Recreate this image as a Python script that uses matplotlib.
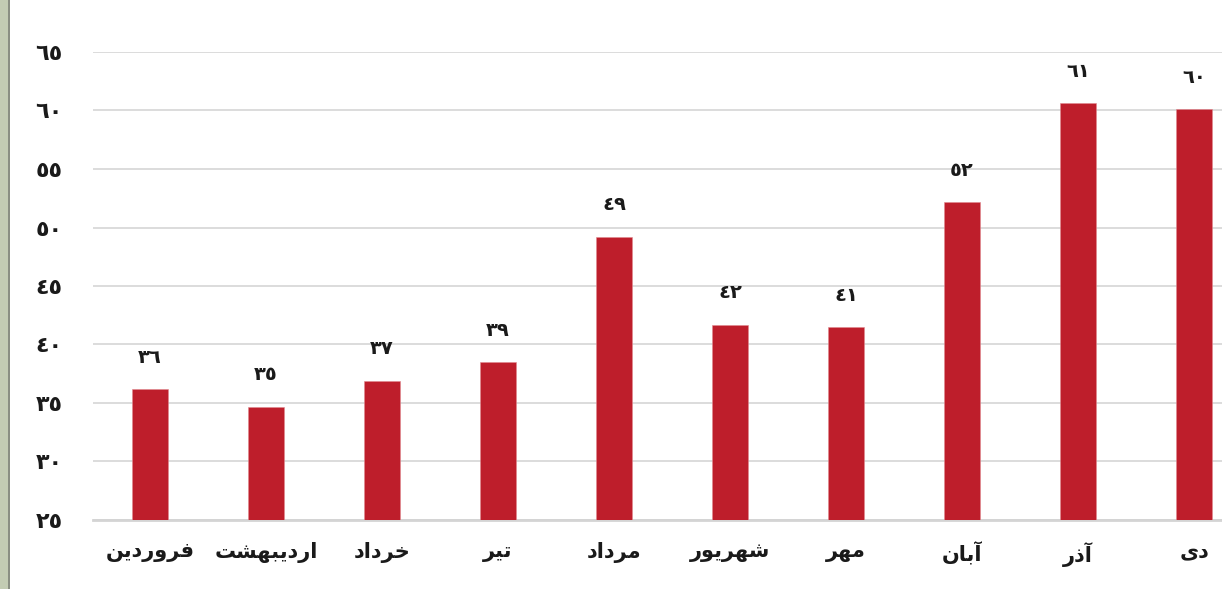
import matplotlib.pyplot as plt
from matplotlib.patches import Rectangle
import numpy as np

# month names, pre-shaped (Arabic presentation forms, visual left-to-right order)
months = [
    "\uFEE6\uFEF3\uFEA9\uFEAD\uFEED\uFEAE\uFED3",          # فروردین
    "\uFE96\uFEB8\uFEEC\uFE92\uFEF3\uFEA9\uFEAD\uFE8D",    # اردیبهشت
    "\uFEA9\uFE8D\uFEA9\uFEAE\uFEA7",                      # خرداد
    "\uFEAE\uFEF4\uFE97",                                  # تیر
    "\uFEA9\uFE8D\uFEA9\uFEAE\uFEE3",                      # مرداد
    "\uFEAD\uFEEE\uFEF3\uFEAE\uFEEC\uFEB7",                # شهریور
    "\uFEAE\uFEEC\uFEE3",                                  # مهر
    "\uFEE5\uFE8E\uFE91\uFE81",                            # آبان
    "\uFEAD\uFEAB\uFE81",                                  # آذر
    "\uFEEF\uFEA9",                                        # دی
]
values = [36.2, 34.7, 36.9, 38.5, 49.2, 41.7, 41.5, 52.15, 60.6, 60.1]
labels = [36, 35, 37, 39, 49, 42, 41, 52, 61, 60]
yticks = [25, 30, 35, 40, 45, 50, 55, 60, 65]

DIGITS = "\u0660\u0661\u0662\u0663\u0664\u0665\u0666\u0667\u0668\u0669"


def ar_num(n):
    return "".join(DIGITS[int(c)] for c in str(n))


plt.rcParams['font.family'] = ['DejaVu Sans']
RED = '#BE1E2B'
TEXT = '#1a1a1a'

fig = plt.figure(figsize=(12.22, 5.89), dpi=100)
ax = fig.add_axes([93 / 1222, 1 - 520 / 589, 1 - 93 / 1222, 468 / 589])

x = np.arange(len(months))
bars = ax.bar(x, values, width=0.31, color=RED, edgecolor='#e08a90', linewidth=0.4, zorder=3)

for b, lab in zip(bars, labels):
    ax.annotate(ar_num(lab), (b.get_x() + b.get_width() / 2, b.get_height()),
                xytext=(0, 23), textcoords='offset points', ha='center', va='center',
                fontsize=14, fontweight='bold', color=TEXT)

ax.set_xlim(-0.49, 9.24)
ax.set_ylim(25, 65)
ax.set_yticks(yticks)
ax.set_yticklabels([ar_num(v) for v in yticks], fontsize=16, fontweight='bold', color=TEXT)
for t in ax.get_yticklabels():
    t.set_y(t.get_position()[1])
ax.set_xticks(x)
ax.set_xticklabels(months, fontsize=15, fontweight='bold', color=TEXT)
ax.tick_params(axis='y', length=0, pad=22)
ax.tick_params(axis='x', length=0, pad=16)

ax.grid(axis='y', color='#d9d9d9', linewidth=1.3, zorder=0)
ax.set_axisbelow(True)
for s in ['top', 'right', 'left']:
    ax.spines[s].set_visible(False)
ax.spines['bottom'].set_color('#d4d4d4')
ax.spines['bottom'].set_linewidth(2)

# side strip at left edge
fig.patches.append(Rectangle((0, 0), 8 / 1222, 1, transform=fig.transFigure,
                             facecolor='#c3ccb3', edgecolor='none'))
fig.patches.append(Rectangle((8 / 1222, 0), 1.5 / 1222, 1, transform=fig.transFigure,
                             facecolor='#8a8f82', edgecolor='none'))

fig.savefig('out.png', dpi=100)
